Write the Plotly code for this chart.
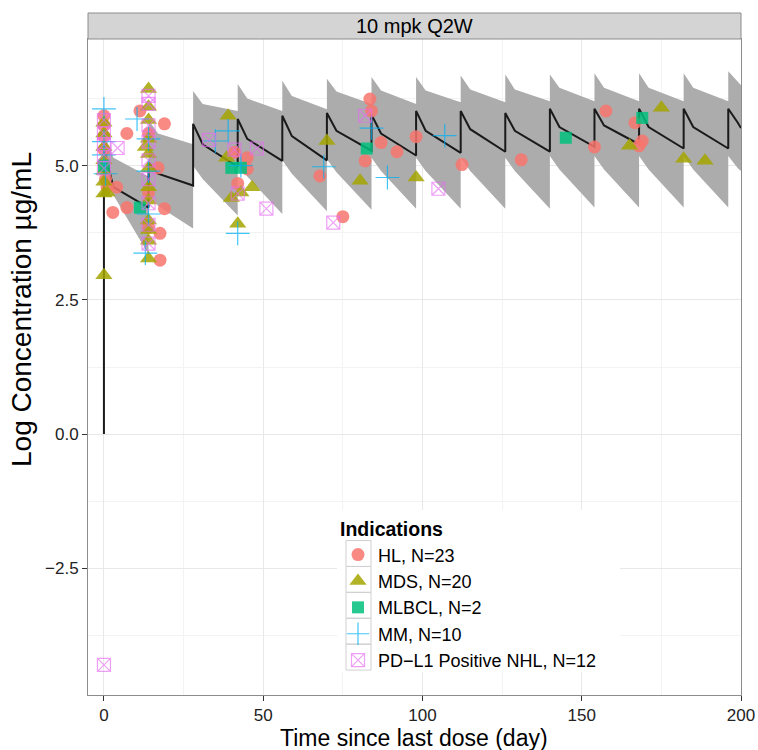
import plotly.graph_objects as go

# ---------------- data ----------------
dose_days = [0, 14, 28, 42, 56, 70, 84, 98, 112, 126, 140, 154, 168, 182, 196]
end_day = 200
mid_offset = 3
pre_dose_value = 0.0

med_peak   = [5.30, 5.05, 5.78, 5.87, 5.93, 5.98, 5.95, 6.02, 6.02, 5.98, 6.06, 6.06, 6.06, 6.06, 6.06]
med_mid    = [4.60, 4.85, 5.40, 5.50, 5.55, 5.65, 5.60, 5.65, 5.68, 5.65, 5.72, 5.75, 5.72, 5.72, 5.80]
med_trough = [4.22, 4.63, 4.98, 5.09, 5.10, 5.28, 5.19, 5.24, 5.26, 5.26, 5.35, 5.40, 5.32, 5.32, 5.70]

upr_peak   = [5.60, 5.85, 6.39, 6.52, 6.58, 6.62, 6.65, 6.65, 6.68, 6.70, 6.70, 6.72, 6.72, 6.72, 6.76]
upr_mid    = [5.15, 5.60, 6.15, 6.25, 6.30, 6.38, 6.40, 6.40, 6.42, 6.42, 6.45, 6.45, 6.45, 6.45, 6.55]
upr_trough = [4.80, 5.40, 6.02, 6.02, 6.05, 6.15, 6.15, 6.18, 6.18, 6.20, 6.20, 6.20, 6.20, 6.20, 6.50]

lwr_peak   = [4.80, 4.50, 5.00, 5.05, 5.10, 5.12, 5.15, 5.15, 5.15, 5.15, 5.18, 5.18, 5.18, 5.18, 5.18]
lwr_mid    = [4.45, 4.25, 4.75, 4.80, 4.85, 4.88, 4.90, 4.90, 4.90, 4.90, 4.93, 4.93, 4.93, 4.93, 4.95]
lwr_trough = [3.35, 3.83, 4.07, 4.10, 4.15, 4.18, 4.20, 4.20, 4.20, 4.20, 4.22, 4.22, 4.22, 4.22, 4.90]

hl_t = [0, 0, 0, 0, 0, 0.5, 1, 2.8, 4, 7.2, 7.2, 11.3, 14, 14, 14, 17, 19, 19, 17.6, 17.6,
        45, 45, 42, 41, 67.8, 75, 83.5, 84, 87, 82, 92, 98, 112.4, 131, 154, 157.6, 166.7, 169, 168]
hl_y = [5.93, 5.75, 5.55, 5.30, 5.05, 4.75, 4.60, 4.13, 4.60, 5.60, 4.22, 6.02, 5.60, 4.50, 3.85, 4.96, 5.78, 4.20, 3.74, 3.24,
        5.15, 4.94, 4.67, 5.25, 4.81, 4.05, 6.24, 6.02, 5.43, 5.09, 5.26, 5.54, 5.02, 5.11, 5.35, 6.02, 5.80, 5.46, 5.37]

mds_t = [0, 0, 0, 0, 0, 0, 0, 0, 1, 14, 14, 14, 14, 14, 14, 14, 14, 14, 14, 14, 14, 13,
         39, 38.5, 46.5, 40, 42, 43, 70, 80.4, 98, 165, 175, 182, 188.7]
mds_y = [5.80, 5.60, 5.35, 5.10, 4.90, 4.70, 4.48, 2.96, 4.50, 6.43, 6.10, 5.85, 5.50, 5.22, 4.95, 4.60, 4.35, 3.98, 3.80, 3.60, 3.27, 5.35,
         5.93, 5.15, 4.60, 4.40, 3.92, 4.50, 5.46, 4.72, 4.78, 5.37, 6.08, 5.13, 5.09]

mlbcl_t = [0, 11.3, 40, 43, 82.5, 145, 169]
mlbcl_y = [5.00, 4.22, 4.96, 4.96, 5.32, 5.52, 5.89]

mm_t = [0, 0, 0, 0.5, 10.4, 14, 14, 13, 14, 39, 35, 42, 43, 69, 84, 89, 107]
mm_y = [6.06, 5.45, 5.20, 4.85, 5.87, 5.50, 4.90, 3.37, 4.10, 5.65, 5.46, 3.74, 5.00, 4.98, 5.70, 4.78, 5.56]

pdl1_t = [0, 0, 0, 0, 0, 0, 4.3, 14, 14, 14, 14, 14, 14, 14, 14, 14, 33, 41, 42, 48, 51, 72, 82, 105]
pdl1_y = [5.85, 5.60, 5.40, 5.20, 4.95, -4.30, 5.33, 6.30, 6.15, 5.75, 5.45, 5.10, 4.75, 4.30, 3.90, 3.55, 5.48, 5.30, 4.48, 5.32, 4.20, 3.94, 5.93, 4.57]

group_names = ["HL, N=23", "MDS, N=20", "MLBCL, N=2", "MM, N=10", "PD\u2212L1 Positive NHL, N=12"]
x_ticks = [0, 50, 100, 150, 200]
y_ticks = [-2.5, 0.0, 2.5, 5.0]
y_tick_text = ["\u22122.5", "0.0", "2.5", "5.0"]

# ---------------- geometry (pixels) ----------------
W, H = 758, 750
L, R, T, B = 88, 741, 39, 695
PW, PH = R - L, B - T


def px(x):
    return (x - L) / PW


def py(y):
    return 1 - (y - T) / PH


# ---------------- build model curves ----------------
t_model, med, hi, lo = [0], [pre_dose_value], [], []
t_band = []
for i, d in enumerate(dose_days):
    e = dose_days[i + 1] if i + 1 < len(dose_days) else end_day
    m = d + mid_offset if e - d > mid_offset else (d + e) / 2
    for tt, mv, hv, lv in [(d, med_peak[i], upr_peak[i], lwr_peak[i]),
                           (m, med_mid[i], upr_mid[i], lwr_mid[i]),
                           (e, med_trough[i], upr_trough[i], lwr_trough[i])]:
        t_model.append(tt); med.append(mv)
        t_band.append(tt); hi.append(hv); lo.append(lv)

fig = go.Figure()
fig.add_trace(go.Scatter(x=t_band + t_band[::-1], y=hi + lo[::-1], fill="toself",
                         fillcolor="rgb(172,172,172)", line=dict(width=0), mode="lines",
                         showlegend=False, hoverinfo="skip"))
fig.add_trace(go.Scatter(x=t_model, y=med, mode="lines", line=dict(color="#1a1a1a", width=2),
                         showlegend=False, hoverinfo="skip"))

styles = [
    ("#F8766D", "circle", 13, None, 0.85),
    ("#A3A500", "triangle-up", 15, None, 0.85),
    ("#00BF7D", "square", 12, None, 0.85),
    ("#00B0F6", "cross-thin-open", 17, 1.2, 0.75),
    ("#E76BF3", "square-x-open", 13, 1.2, 0.65),
]
series = [(hl_t, hl_y), (mds_t, mds_y), (mlbcl_t, mlbcl_y), (mm_t, mm_y), (pdl1_t, pdl1_y)]
for (tx, ty), name, (col, sym, size, lw, op) in zip(series, group_names, styles):
    marker = dict(color=col, symbol=sym, size=size, opacity=op)
    marker["line"] = dict(color=col, width=lw) if lw else dict(width=0)
    fig.add_trace(go.Scatter(x=tx, y=ty, mode="markers", name=name, marker=marker))

font_family = "Liberation Sans, Arial, sans-serif"

# legend decoration: white background and key boxes (ggplot style)
leg_left, leg_right, leg_top, leg_bot = 337, 620, 510, 672
key_x0, key_x1 = 346, 371
row_first, row_step = 553.5, 25.9
row_centers = [row_first + k * row_step for k in range(len(group_names))]
shapes = [
    dict(type="rect", xref="paper", yref="paper", x0=0, x1=1, y0=1, y1=py(13),
         fillcolor="#d4d4d4", line=dict(color="#8c8c8c", width=1), layer="above"),
    dict(type="rect", xref="paper", yref="paper", x0=px(leg_left), x1=px(leg_right),
         y0=py(leg_bot), y1=py(leg_top), fillcolor="white", line=dict(width=0), layer="above"),
]
for c in row_centers:
    shapes.append(dict(type="rect", xref="paper", yref="paper", x0=px(key_x0), x1=px(key_x1),
                       y0=py(c + row_step / 2), y1=py(c - row_step / 2), fillcolor="rgba(0,0,0,0)",
                       line=dict(color="#d0d0d0", width=1), layer="above"))

fig.update_layout(
    width=W, height=H,
    margin=dict(l=L, r=W - R, t=T, b=H - B),
    paper_bgcolor="white", plot_bgcolor="white",
    font=dict(family=font_family, color="#1a1a1a"),
    showlegend=True,
    legend=dict(
        title=dict(text="<b>Indications</b>", font=dict(size=19.5, color="black")),
        font=dict(size=18, color="black"),
        x=px(338), y=py(511), xanchor="left", yanchor="top",
        bgcolor="rgba(0,0,0,0)", borderwidth=0, tracegroupgap=0,
    ),
    xaxis=dict(range=[-5, 200], tickvals=x_ticks, ticks="outside", ticklen=5, tickcolor="#333",
               tickfont=dict(size=17, color="#222"), showgrid=True, gridcolor="#e8e8e8", gridwidth=1,
               minor=dict(dtick=25, tick0=0, showgrid=True, gridcolor="#f3f3f3", ticks=""),
               zeroline=False, showline=True, linecolor="#8c8c8c", linewidth=1, mirror=True,
               automargin=False),
    yaxis=dict(range=[-4.86, 7.36], tickvals=y_ticks, ticktext=y_tick_text, ticks="outside", ticklen=5,
               tickcolor="#333", tickfont=dict(size=17, color="#222"), showgrid=True, gridcolor="#e8e8e8",
               minor=dict(dtick=1.25, tick0=0, showgrid=True, gridcolor="#f3f3f3", ticks=""),
               zeroline=False, showline=True, linecolor="#8c8c8c", linewidth=1, mirror=True,
               automargin=False),
    shapes=shapes,
    annotations=[
        dict(text="10 mpk Q2W", xref="paper", yref="paper", x=0.5, y=py(26),
             showarrow=False, font=dict(size=20, color="black"), yanchor="middle"),
        dict(text="Time since last dose (day)", xref="paper", yref="paper", x=px(414), y=py(738),
             showarrow=False, font=dict(size=23, color="black"), yanchor="middle", xanchor="center"),
        dict(text="Log Concentration \u00b5g/mL", xref="paper", yref="paper", x=px(21), y=py(310),
             showarrow=False, font=dict(size=28, color="black"), textangle=-90,
             yanchor="middle", xanchor="center"),
    ],
)

fig.write_html("out.html", config={"displayModeBar": False},
               post_script="document.body.style.margin='0';")
